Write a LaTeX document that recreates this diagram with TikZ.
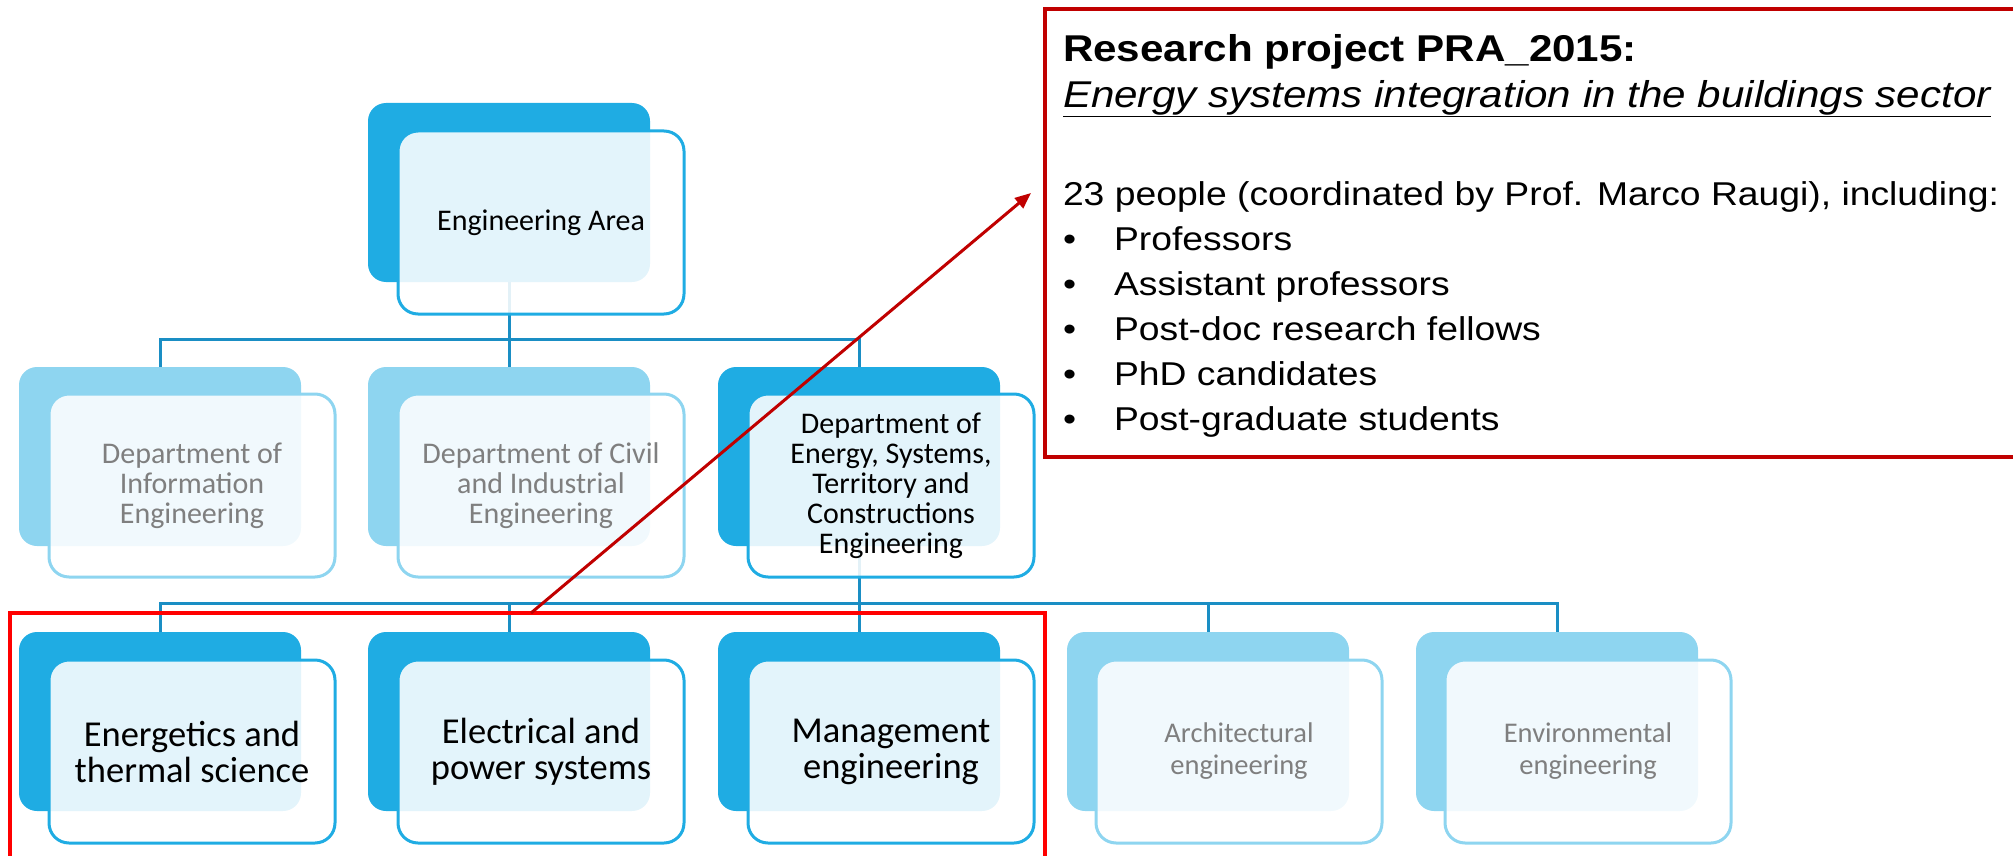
\documentclass[tikz,border=0pt]{standalone}
\usepackage{fontspec}
\setmainfont[FakeStretch=1.13]{Liberation Sans}
\newfontfamily\boxfont{Carlito}
\usetikzlibrary{arrows.meta,backgrounds}

\definecolor{blueDark}{HTML}{1FACE3}
\definecolor{blueLight}{HTML}{8ED5F0}
\definecolor{busBlue}{HTML}{1A8EC4}
\definecolor{txtGray}{HTML}{7F7F7F}
\definecolor{darkRed}{HTML}{C00000}

\tikzset{
  backbox/.style={rectangle, rounded corners=18pt, minimum width=282pt,
    minimum height=179pt, inner sep=0pt, outer sep=0pt, anchor=north west},
  frontbox/.style={rectangle, rounded corners=20pt, minimum width=286pt,
    minimum height=183pt, inner sep=0pt, outer sep=0pt, anchor=north west,
    line width=3pt, fill=white, fill opacity=0.88, text opacity=1,
    align=center, font=\boxfont\fontsize{30}{30}\selectfont},
  onpath/.style={draw=blueDark, text=black},
  offpath/.style={draw=blueLight, text=txtGray},
  bigtext/.style={font=\boxfont\fontsize{36.5}{36}\selectfont},
  smalltext/.style={font=\boxfont\fontsize{28.5}{32}\selectfont},
  bus/.style={draw=busBlue, line width=3pt},
  txtline/.style={anchor=base west, inner sep=0pt, outer sep=0pt},
  bodytext/.style={font=\fontsize{33}{36}\selectfont},
}

\begin{document}
\begin{tikzpicture}[x=1pt,y=-1pt]
\useasboundingbox (0,0) rectangle (2013,856);

% shaded back plates of the organisation chart
\node[backbox, fill=blueDark]  (eaB)     at (368,103) {};
\node[backbox, fill=blueLight] (dieB)    at (19,367)  {};
\node[backbox, fill=blueLight] (dcieB)   at (368,367) {};
\node[backbox, fill=blueDark]  (destecB) at (718,367) {};
\node[backbox, fill=blueDark]  (etsB)    at (19,632)  {};
\node[backbox, fill=blueDark]  (epsB)    at (368,632) {};
\node[backbox, fill=blueDark]  (mgB)     at (718,632) {};
\node[backbox, fill=blueLight] (arB)     at (1067,632) {};
\node[backbox, fill=blueLight] (enB)     at (1416,632) {};

% tree connectors, kept behind the plates
\coordinate (busTop) at (0,339);
\coordinate (busLow) at (0,603);
\begin{scope}[on background layer]
  \draw[bus] (eaB.south) -- (eaB.south |- busTop);
  \draw[bus] (dieB.north) |- (destecB.north |- busTop) -- (destecB.north);
  \draw[bus] (dcieB.north |- busTop) -- (dcieB.north);
  \draw[bus] (destecB.south) -- (destecB.south |- busLow);
  \draw[bus] (etsB.north) |- (enB.north |- busLow) -- (enB.north);
  \draw[bus] (epsB.north |- busLow) -- (epsB.north);
  \draw[bus] (mgB.north |- busLow) -- (mgB.north);
  \draw[bus] (arB.north |- busLow) -- (arB.north);
\end{scope}

% framed front cards with the unit names
\node[frontbox, onpath]  (ea)     at (398,131) {Engineering Area};
\node[frontbox, offpath] (die)    at (49,394)  {Department of\\Information\\Engineering};
\node[frontbox, offpath] (dcie)   at (398,394) {Department of Civil\\and Industrial\\Engineering};
\node[frontbox, onpath]  (destec) at (748,394) {Department of\\Energy, Systems,\\Territory and\\Constructions\\Engineering};
\node[frontbox, onpath, bigtext]    (ets) at (49,660)   {Energetics and\\thermal science};
\node[frontbox, onpath, bigtext]    (eps) at (398,660)  {Electrical and\\power systems};
\node[frontbox, onpath, bigtext]    (mg)  at (748,660)  {Management\\engineering};
\node[frontbox, offpath, smalltext] (ar)  at (1096,660) {Architectural\\engineering};
\node[frontbox, offpath, smalltext] (en)  at (1445,660) {Environmental\\engineering};

% highlight around the three sections in the project
\node[draw=red, line width=4pt, inner sep=0pt, outer sep=0pt, anchor=north west,
      minimum width=1035pt, minimum height=246pt] (group) at (10,613) {};

% project description box
\node[draw=darkRed, line width=3.5pt, inner sep=0pt, outer sep=0pt, anchor=north west,
      minimum width=1000pt, minimum height=448pt] (proj) at (1045,9) {};

\node[txtline, font=\bfseries\fontsize{37.3}{40}\selectfont] (ttl) at (1063,61.7) {Research project PRA\_2015:};
\node[txtline, font=\itshape\fontsize{37.3}{40}\selectfont] (sub) at (1063,107.3) {\underline{Energy systems integration in the buildings sector}};
\node[txtline, bodytext] (ppl) at (1063,205) {23 people (coordinated by Prof. Marco Raugi), including:};
\node[txtline, bodytext] (d1) at (1063,250) {\textbullet};
\node[txtline, bodytext] (l1) at (1114,250) {Professors};
\node[txtline, bodytext] (d2) at (1063,295) {\textbullet};
\node[txtline, bodytext] (l2) at (1114,295) {Assistant professors};
\node[txtline, bodytext] (d3) at (1063,340) {\textbullet};
\node[txtline, bodytext] (l3) at (1114,340) {Post-doc research fellows};
\node[txtline, bodytext] (d4) at (1063,385) {\textbullet};
\node[txtline, bodytext] (l4) at (1114,385) {PhD candidates};
\node[txtline, bodytext] (d5) at (1063,430) {\textbullet};
\node[txtline, bodytext] (l5) at (1114,430) {Post-graduate students};

% pointer from the highlighted group to the project box
\coordinate (src) at (group.north west -| 531,0);
\coordinate (dst) at (1031,193);
\draw[darkRed, line width=3pt, -{Triangle[length=16pt,width=13pt]}] (src) -- (dst);
\end{tikzpicture}
\end{document}
